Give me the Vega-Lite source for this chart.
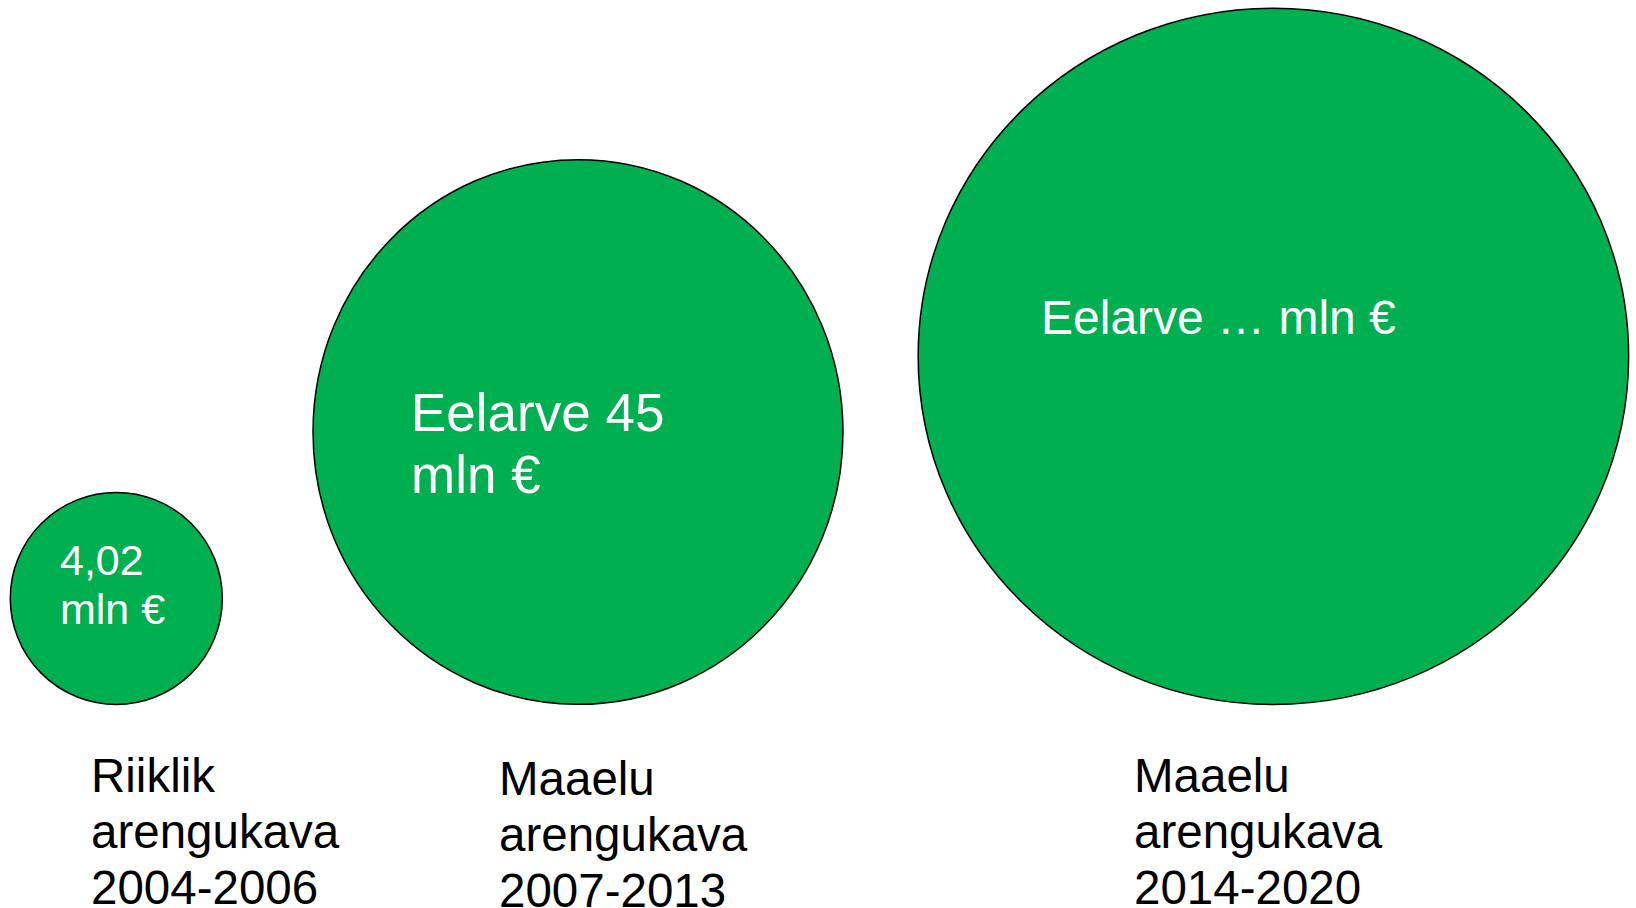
{
  "$schema": "https://vega.github.io/schema/vega-lite/v6.json",
  "width": 1636,
  "height": 908,
  "autosize": {"type": "none"},
  "padding": 0,
  "background": "white",
  "config": {"view": {"stroke": null}},
  "encoding": {
    "x": {"field": "x", "type": "quantitative", "axis": null, "scale": {"domain": [0, 1636], "nice": false, "zero": false}},
    "y": {"field": "y", "type": "quantitative", "axis": null, "scale": {"domain": [0, 908], "nice": false, "zero": false, "reverse": true}}
  },
  "layer": [
    {
      "data": {"values": [
        {"period": "2004-2006", "x": 116.3, "y": 598.4, "diam": 212},
        {"period": "2007-2013", "x": 578, "y": 432, "diam": 544.7},
        {"period": "2014-2020", "x": 1273.4, "y": 356.3, "diam": 710.5}
      ]},
      "mark": {"type": "point", "filled": true, "fill": "#00B050", "stroke": "#000000", "strokeWidth": 1.5, "opacity": 1, "fillOpacity": 1, "strokeOpacity": 1},
      "encoding": {
        "shape": {"field": "period", "type": "nominal", "legend": null,
          "scale": {"domain": ["2004-2006", "2007-2013", "2014-2020"],
            "range": ["circle", "M -0.973 0 A 0.973 1 0 1 0 0.973 0 A 0.973 1 0 1 0 -0.973 0 Z", "M -1 0 A 1 0.98 0 1 0 1 0 A 1 0.98 0 1 0 -1 0 Z"]}},
        "size": {"field": "diam", "type": "quantitative", "legend": null,
          "scale": {"type": "pow", "exponent": 2, "domain": [0, 1000], "range": [0, 1000000]}}
      }
    },
    {
      "data": {"values": [{"x": 60, "y": 575, "t": "4,02\nmln €"}]},
      "mark": {"type": "text", "align": "left", "baseline": "alphabetic", "font": "Liberation Sans", "fontSize": 43, "lineHeight": 49, "lineBreak": "\n", "color": "#FFFFFF"},
      "encoding": {"text": {"field": "t", "type": "nominal"}}
    },
    {
      "data": {"values": [{"x": 411, "y": 431, "t": "Eelarve 45\nmln €"}]},
      "mark": {"type": "text", "align": "left", "baseline": "alphabetic", "font": "Liberation Sans", "fontSize": 53, "lineHeight": 62, "lineBreak": "\n", "color": "#FFFFFF"},
      "encoding": {"text": {"field": "t", "type": "nominal"}}
    },
    {
      "data": {"values": [{"x": 1041, "y": 334, "t": "Eelarve … mln €"}]},
      "mark": {"type": "text", "align": "left", "baseline": "alphabetic", "font": "Liberation Sans", "fontSize": 48, "color": "#FFFFFF"},
      "encoding": {"text": {"field": "t", "type": "nominal"}}
    },
    {
      "data": {"values": [
        {"x": 91, "y": 792, "t": "Riiklik\narengukava\n2004-2006"},
        {"x": 499, "y": 795, "t": "Maaelu\narengukava\n2007-2013"},
        {"x": 1134, "y": 792, "t": "Maaelu\narengukava\n2014-2020"}
      ]},
      "mark": {"type": "text", "align": "left", "baseline": "alphabetic", "font": "Liberation Sans", "fontSize": 47.5, "lineHeight": 56, "lineBreak": "\n", "color": "#000000"},
      "encoding": {"text": {"field": "t", "type": "nominal"}}
    }
  ]
}
